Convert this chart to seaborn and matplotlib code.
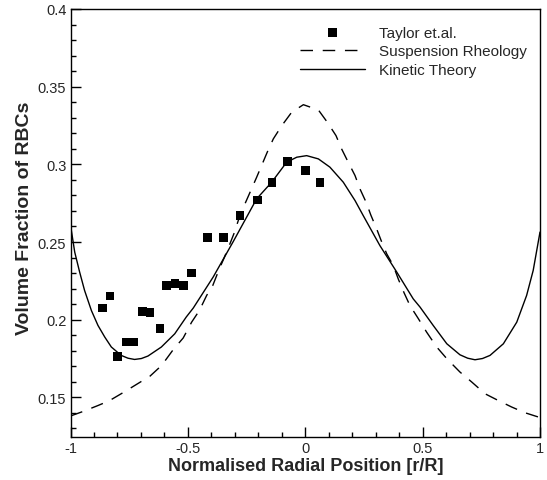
import matplotlib
matplotlib.use("Agg")
import matplotlib.pyplot as plt
import seaborn as sns
from matplotlib.ticker import MultipleLocator, FuncFormatter

# Taylor et.al. experimental points
taylor_x = [-0.865, -0.832, -0.801, -0.761, -0.730, -0.692, -0.661, -0.619, -0.590, -0.555,
            -0.517, -0.484, -0.416, -0.349, -0.278, -0.204, -0.142, -0.074, 0.000, 0.063]
taylor_y = [0.2075, 0.2152, 0.1763, 0.1856, 0.1856, 0.2051, 0.2044, 0.1943, 0.2218, 0.2231,
            0.2218, 0.2300, 0.2531, 0.2531, 0.2670, 0.2771, 0.2883, 0.3016, 0.2962, 0.2883]

# Suspension Rheology (dashed)
susp_x = [-1.0, -0.945, -0.882, -0.835, -0.772, -0.661, -0.612, -0.562, -0.520, -0.484,
          -0.451, -0.420, -0.394, -0.366, -0.346, -0.321, -0.304, -0.271, -0.260, -0.232,
          -0.207, -0.186, -0.162, -0.136, -0.100, -0.058, -0.008, 0.056, 0.094, 0.131,
          0.155, 0.183, 0.212, 0.233, 0.259, 0.279, 0.304, 0.326, 0.347, 0.375,
          0.396, 0.421, 0.446, 0.482, 0.517, 0.560, 0.603, 0.659, 0.709, 0.766,
          0.822, 0.879, 0.936, 1.0]
susp_y = [0.138, 0.141, 0.1448, 0.1478, 0.1534, 0.1637, 0.1705, 0.1808, 0.1882, 0.1984,
          0.2059, 0.2156, 0.2220, 0.2327, 0.2396, 0.2488, 0.2553, 0.2703, 0.2735, 0.2831,
          0.2917, 0.2992, 0.3078, 0.3164, 0.3249, 0.3335, 0.3384, 0.3350, 0.3271, 0.3185,
          0.3099, 0.3014, 0.2928, 0.2842, 0.2757, 0.2675, 0.2585, 0.2499, 0.2424, 0.2349,
          0.2263, 0.2173, 0.2091, 0.2006, 0.1920, 0.1824, 0.1749, 0.1663, 0.1599, 0.1523,
          0.1480, 0.1438, 0.1401, 0.137]

# Kinetic Theory (solid)
kin_x = [-1.0, -0.982, -0.961, -0.940, -0.911, -0.883, -0.854, -0.826, -0.784, -0.755,
         -0.727, -0.698, -0.670, -0.613, -0.556, -0.507, -0.477, -0.392, -0.306, -0.207,
         -0.143, -0.079, -0.036, 0.006, 0.056, 0.105, 0.162, 0.212, 0.247, 0.318,
         0.390, 0.460, 0.489, 0.545, 0.603, 0.659, 0.692, 0.723, 0.755, 0.787,
         0.844, 0.901, 0.943, 0.971, 1.0]
kin_y = [0.2610, 0.2435, 0.2306, 0.2188, 0.2059, 0.1963, 0.1888, 0.1824, 0.1770, 0.1752,
         0.1744, 0.1750, 0.1766, 0.1824, 0.1909, 0.2017, 0.2075, 0.2275, 0.2505, 0.2778,
         0.2885, 0.3014, 0.3046, 0.3056, 0.3035, 0.2982, 0.2885, 0.2767, 0.2670, 0.2477,
         0.2306, 0.2134, 0.2081, 0.1963, 0.1845, 0.1774, 0.1752, 0.1742, 0.1750, 0.1770,
         0.1845, 0.1984, 0.2156, 0.2317, 0.2564]

sns.set_style("white")
plt.rcParams["font.family"] = ["Liberation Sans", "DejaVu Sans"]

fig = plt.figure(figsize=(5.47, 4.81), dpi=100)
ax = fig.add_axes([70.5 / 547, 1 - 437.5 / 481, (540 - 70.5) / 547, (437.5 - 10) / 481])

sns.scatterplot(x=taylor_x, y=taylor_y, marker="s", s=40, color="black",
                edgecolor="none", label="Taylor et.al.", ax=ax, zorder=3)
sns.lineplot(x=susp_x, y=susp_y, color="black", linewidth=1.0,
             linestyle=(0, (9, 7)), label="Suspension Rheology", ax=ax)
sns.lineplot(x=kin_x, y=kin_y, color="black", linewidth=1.0,
             label="Kinetic Theory", ax=ax)

ax.set_xlim(-1, 1)
ax.set_ylim(0.1248, 0.4)
ax.xaxis.set_major_locator(MultipleLocator(0.5))
ax.xaxis.set_minor_locator(MultipleLocator(0.1))
ax.yaxis.set_major_locator(MultipleLocator(0.05))
ax.yaxis.set_minor_locator(MultipleLocator(0.01))
ax.xaxis.set_major_formatter(FuncFormatter(lambda v, p: f"{v:g}"))
ax.yaxis.set_major_formatter(FuncFormatter(lambda v, p: f"{v:g}"))
ax.tick_params(which="both", direction="in", top=False, right=False,
               left=True, bottom=True, color="black", width=1.0, labelsize=10.5, pad=3)
ax.tick_params(which="major", length=7)
ax.tick_params(which="minor", length=3.3)

for sp in ax.spines.values():
    sp.set_color("black")
    sp.set_linewidth(1.0)

ax.set_xlabel("Normalised Radial Position [r/R]", fontsize=13, fontweight="bold", labelpad=2)
ax.set_ylabel("Volume Fraction of RBCs", fontsize=14, fontweight="bold")
ax.yaxis.set_label_coords(-0.097, 0.513)
ax.yaxis.label.set_verticalalignment("center")

leg = ax.legend(loc="upper left", bbox_to_anchor=(0.476, 0.975), frameon=False,
                fontsize=11, handlelength=4.25, handletextpad=0.9,
                borderaxespad=0.0, labelspacing=0.3)

fig.savefig("out.png", dpi=100)
